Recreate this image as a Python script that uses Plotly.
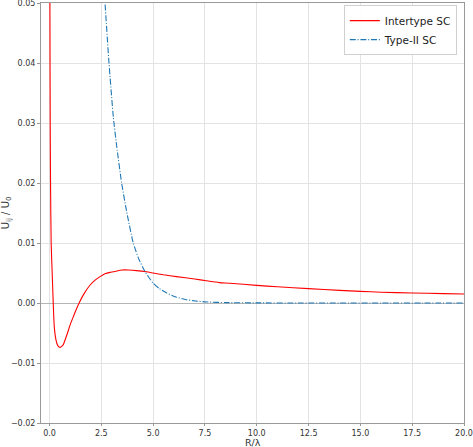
import plotly.graph_objects as go

# Intertype SC interaction
inter_x = [0.012, 0.02, 0.035, 0.05, 0.08, 0.11, 0.15, 0.18, 0.23, 0.31, 0.4, 0.51, 0.6, 0.67,
           0.84, 1.0, 1.16, 1.3, 1.43, 1.64, 1.96, 2.2, 2.44, 2.7, 2.92, 3.2, 3.5, 3.8, 4.2,
           4.68, 5.0, 5.5, 6.12, 7.0, 7.57, 8.2, 8.69, 10.0, 11.0, 12.5, 14.0, 15.0, 16.0,
           17.5, 19.0, 20.0]
inter_y = [0.08, 0.05, 0.03, 0.02, 0.01, 0.0068, 0.003, 0.0, -0.0039, -0.0061, -0.0071,
           -0.0074, -0.0072, -0.0069, -0.0053, -0.0036, -0.0022, -0.001, 0.0, 0.0014, 0.003,
           0.0038, 0.0044, 0.0049, 0.0051, 0.0053, 0.0055, 0.0055, 0.0054, 0.0052, 0.0050,
           0.0047, 0.0044, 0.0040, 0.0037, 0.0034, 0.0033, 0.00294, 0.0027, 0.0024, 0.0021,
           0.00194, 0.0018, 0.00167, 0.00156, 0.0015]

# Type-II SC interaction
type2_x = [2.6, 2.68, 2.87, 3.08, 3.24, 3.48, 3.72, 4.04, 4.3, 4.6, 5.0, 5.3, 5.64, 6.1,
           6.6, 7.0, 7.57, 8.5, 10.0, 12.0, 14.0, 16.0, 18.0, 20.0]
type2_y = [0.055, 0.05, 0.04, 0.031, 0.0262, 0.02, 0.0153, 0.01, 0.0074, 0.0053, 0.0033,
           0.0024, 0.0017, 0.001, 0.00055, 0.00035, 0.00017, 0.00007, 0.00002, 0.000005,
           0.0, 0.0, 0.0, 0.0]

x_ticks = [0.0, 2.5, 5.0, 7.5, 10.0, 12.5, 15.0, 17.5, 20.0]
y_ticks = [-0.02, -0.01, 0.0, 0.01, 0.02, 0.03, 0.04, 0.05]

FONT = "DejaVu Sans"

fig = go.Figure()
fig.add_trace(go.Scatter(x=inter_x, y=inter_y, mode="lines", name="Intertype SC",
                         line=dict(color="#ff0000", width=1.1, shape="spline", smoothing=0.5)))
fig.add_trace(go.Scatter(x=type2_x, y=type2_y, mode="lines", name="Type-II SC",
                         line=dict(color="#1f77b4", width=1.1, dash="6px,1.8px,1px,1.8px",
                                   shape="spline", smoothing=0.5)))

fig.update_layout(
    width=473, height=447,
    margin=dict(l=41, r=9, t=3, b=24, autoexpand=False),
    paper_bgcolor="white", plot_bgcolor="white",
    font=dict(family=FONT, size=8, color="#333333"),
    showlegend=True,
    legend=dict(x=0.983, y=0.995, xanchor="right", yanchor="top",
                bgcolor="rgba(255,255,255,0.9)", bordercolor="#d0d0d0", borderwidth=1,
                font=dict(family=FONT, size=10.5, color="#222222"),
                tracegroupgap=0, itemwidth=30),
    xaxis=dict(range=[-0.41, 20], tickvals=x_ticks, ticktext=[f"{v:.1f}" for v in x_ticks],
               automargin=False, ticklabeloverflow="allow",
               showgrid=True, gridcolor="#e3e3e3", gridwidth=1, zeroline=False,
               showline=True, linecolor="#999999", linewidth=1, mirror=True,
               ticks="outside", ticklen=2, tickcolor="#999999"),
    yaxis=dict(range=[-0.02, 0.0500001], tickvals=y_ticks,
               ticktext=[("\u2212" if v < 0 else "") + f"{abs(v):.2f}" for v in y_ticks],
               automargin=False, ticklabeloverflow="allow",
               showgrid=True, gridcolor="#e3e3e3", gridwidth=1,
               zeroline=True, zerolinecolor="#b5b5b5", zerolinewidth=1,
               showline=True, linecolor="#999999", linewidth=1, mirror=True,
               ticks="outside", ticklen=3, tickcolor="#999999"),
    annotations=[
        dict(text="U<sub>ij</sub> / U<sub>0</sub>", x=-0.082, y=0.5, xref="paper", yref="paper",
             textangle=-90, showarrow=False, font=dict(family=FONT, size=10, color="#333333"),
             xanchor="center", yanchor="middle"),
        dict(text="R/\u03bb", x=0.5, y=-0.046, xref="paper", yref="paper", showarrow=False,
             font=dict(family=FONT, size=9.5, color="#333333"), xanchor="center", yanchor="middle"),
    ],
)

fig.write_html("out.html", config={"displayModeBar": False},
               post_script="document.body.style.margin='0';document.body.style.overflow='hidden';")
